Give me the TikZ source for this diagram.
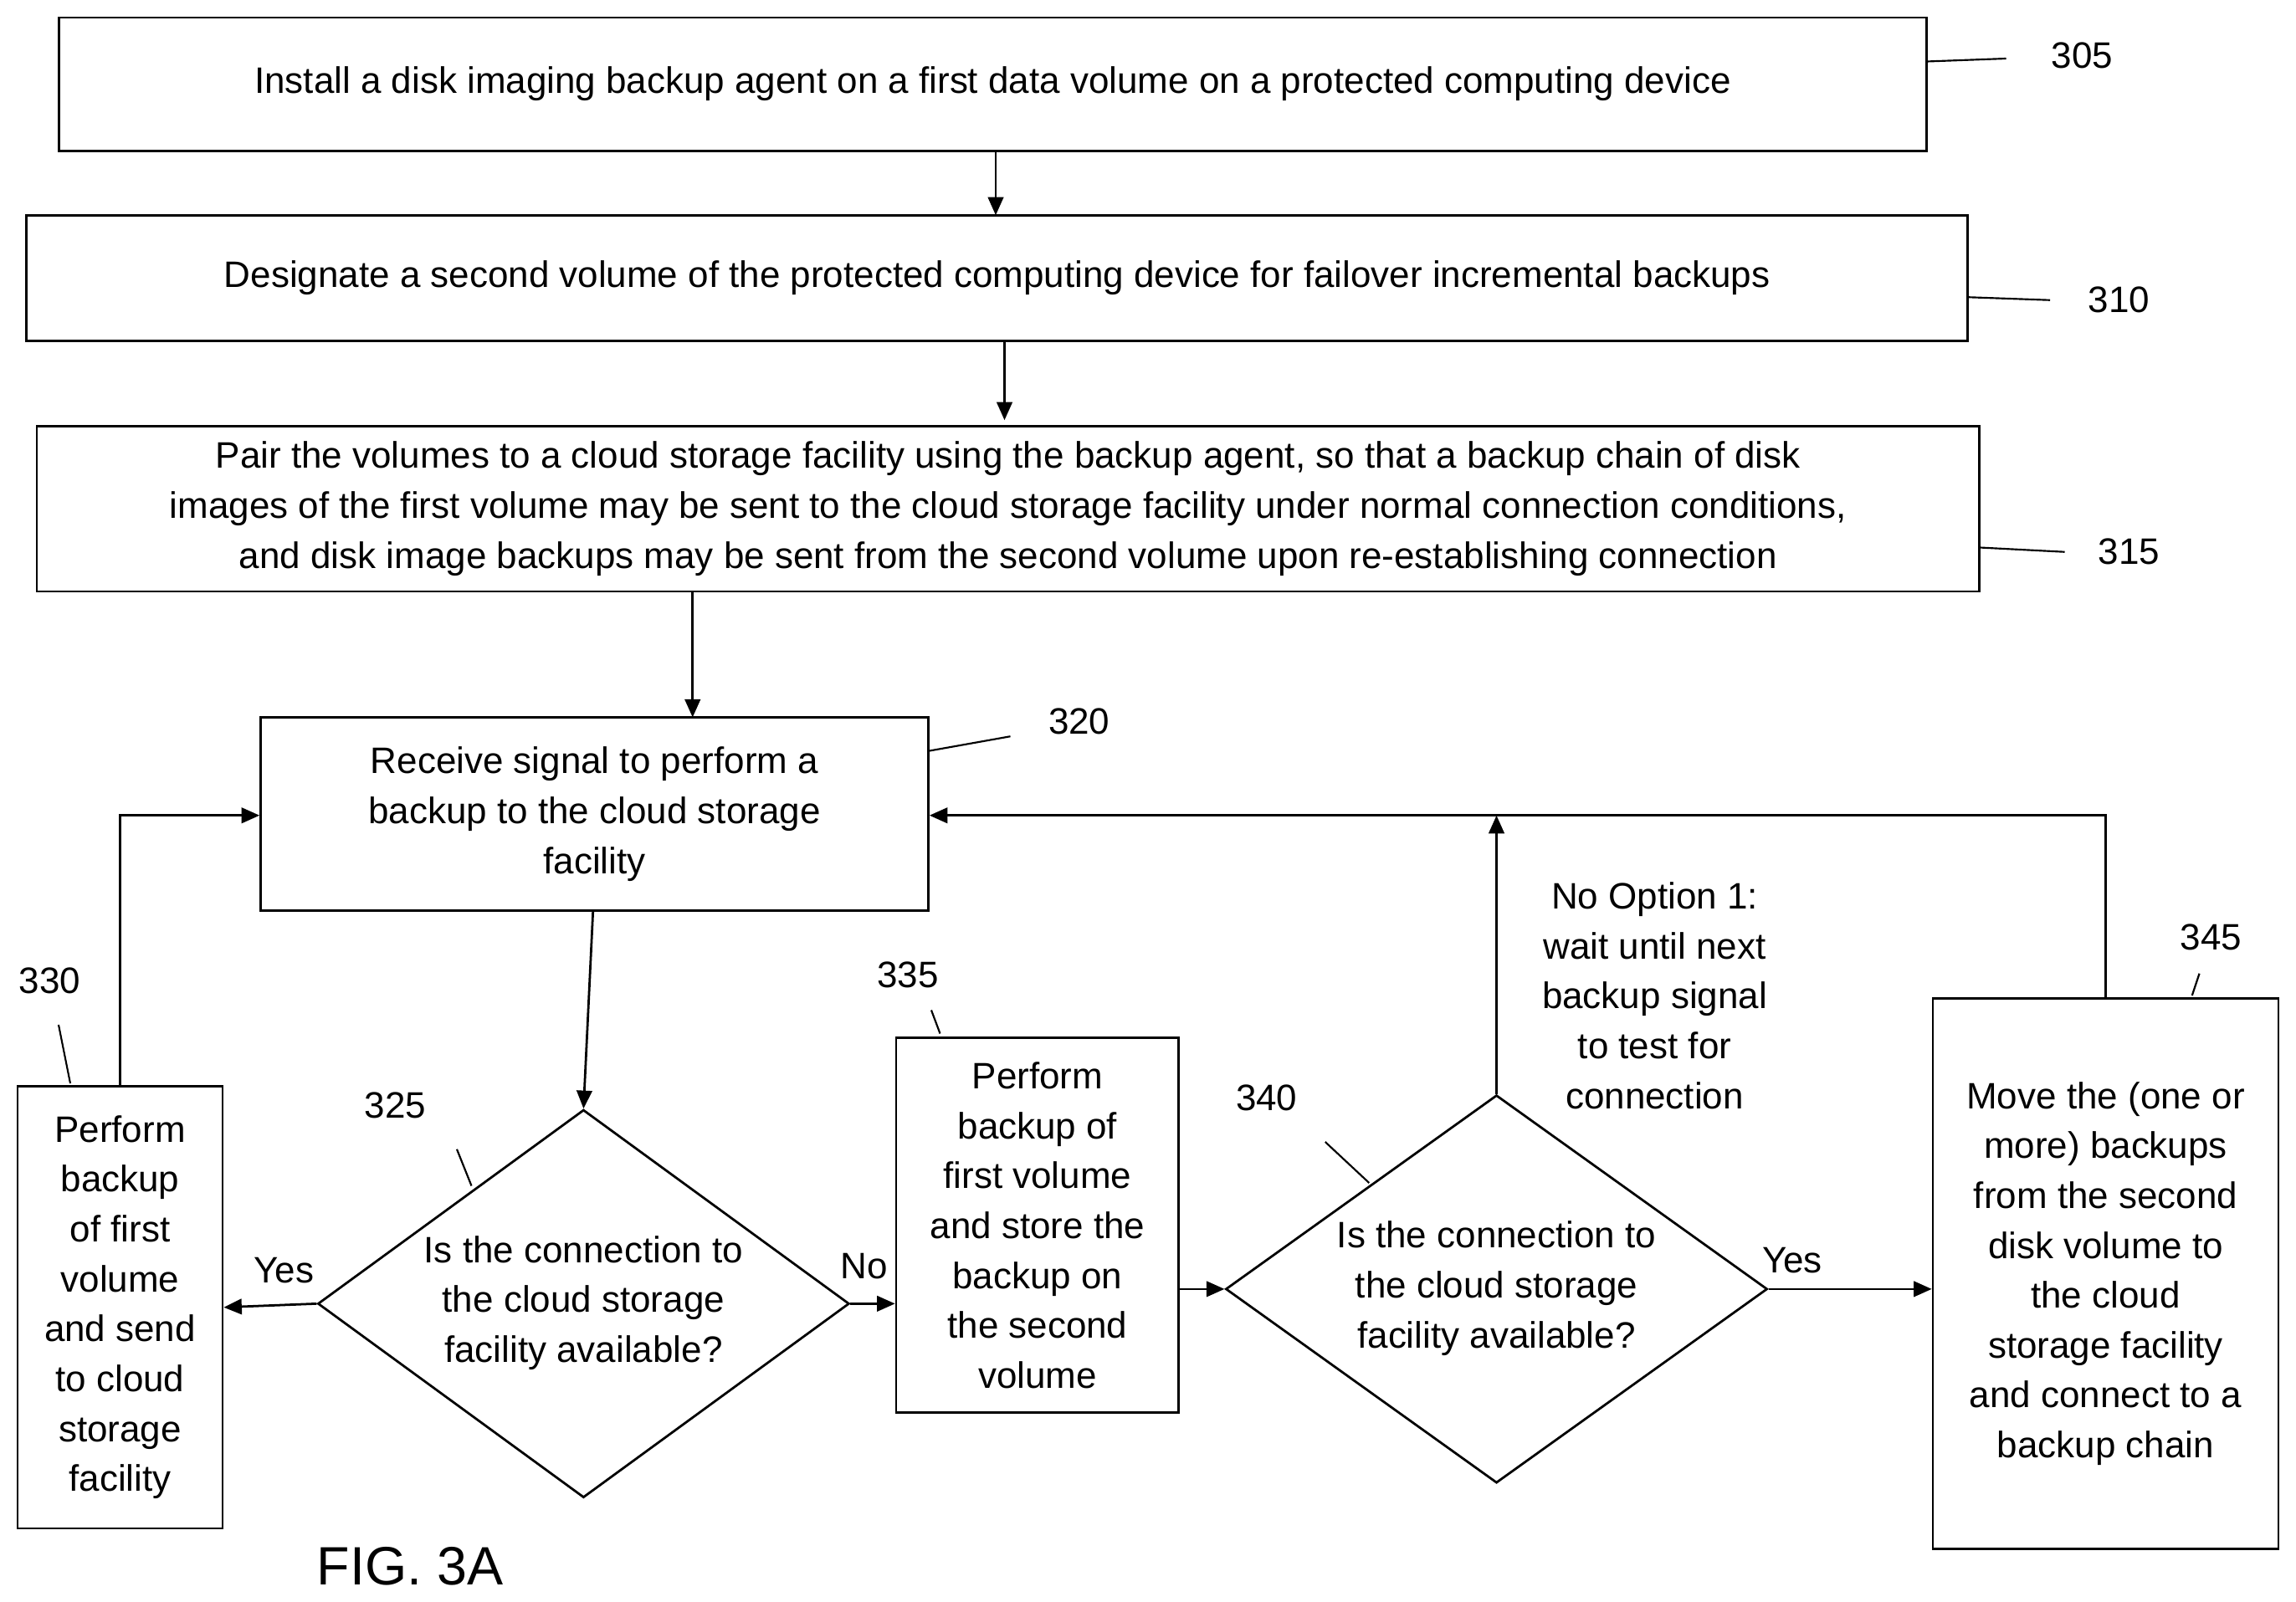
\documentclass[tikz,border=0pt]{standalone}
\usepackage{fontspec}
\setmainfont{Liberation Sans}
\usetikzlibrary{shapes.geometric,arrows.meta}
\begin{document}
\begin{tikzpicture}[x=0.02cm,y=-0.02cm,
  box/.style={draw,line width=0.9pt,rectangle,inner sep=0pt,align=center,font=\fontsize{14.3}{19.4}\selectfont},
  dia/.style={draw,line width=0.9pt,diamond,inner sep=0pt},
  txt/.style={align=center,font=\fontsize{14.3}{19.4}\selectfont},
  arr/.style={line width=0.9pt,-{Triangle[length=7pt,width=6pt]}},
  lead/.style={line width=0.7pt},
  lbl/.style={font=\fontsize{14.3}{17}\selectfont}]
\useasboundingbox (0,0) rectangle (1568,1094);
\node[box,minimum width=25.52cm,minimum height=1.82cm] (b305) at (678,57.5) {Install a disk imaging backup agent on a first data volume on a protected computing device};
\node[box,minimum width=26.52cm,minimum height=1.72cm] (b310) at (681,190) {Designate a second volume of the protected computing device for failover incremental backups};
\node[box,minimum width=26.54cm,minimum height=2.26cm] (b315) at (688.5,347.5) {Pair the volumes to a cloud storage facility using the backup agent, so that a backup chain of disk\\images of the first volume may be sent to the cloud storage facility under normal connection conditions,\\and disk image backups may be sent from the second volume upon re-establishing connection};
\node[box,minimum width=9.12cm,minimum height=2.64cm] (b320) at (406,556) {Receive signal to perform a\\backup to the cloud storage\\facility};
\node[box,minimum width=2.8cm,minimum height=6.04cm] (b330) at (82,893) {Perform\\backup\\of first\\volume\\and send\\to cloud\\storage\\facility};
\node[box,minimum width=3.86cm,minimum height=5.12cm] (b335) at (708.5,837) {Perform\\backup of\\first volume\\and store the\\backup on\\the second\\volume};
\node[box,minimum width=4.72cm,minimum height=7.52cm] (b345) at (1438,870) {Move the (one or\\more) backups\\from the second\\disk volume to\\the cloud\\storage facility\\and connect to a\\backup chain};
\node[dia,minimum width=7.26cm,minimum height=5.3cm] (d325) at (398.5,890.5) {};
\node[txt] (t325) at (398.5,890) {Is the connection to\\the cloud storage\\facility available?};
\node[dia,minimum width=7.4cm,minimum height=5.3cm] (d340) at (1022,880.5) {};
\node[txt] (t340) at (1022,880) {Is the connection to\\the cloud storage\\facility available?};
\node[txt] (opt) at (1130,680) {No Option 1:\\wait until next\\backup signal\\to test for\\connection};
\node[txt] (yes1) at (194,868) {Yes};
\node[txt] (no1) at (590,865) {No};
\node[txt] (yes2) at (1224,861) {Yes};
\node[lbl] (l305) at (1422,38) {305};
\node[lbl] (l310) at (1447,205) {310};
\node[lbl] (l315) at (1454,377) {315};
\node[lbl] (l320) at (737,493) {320};
\node[lbl] (l325) at (270,755) {325};
\node[lbl] (l330) at (34,670) {330};
\node[lbl] (l335) at (620,666) {335};
\node[lbl] (l340) at (865,750) {340};
\node[lbl] (l345) at (1510,640) {345};
\node[font=\fontsize{21}{25}\selectfont] (fig) at (280,1070) {FIG. 3A};
\coordinate (c1) at (82,557);
\coordinate (c2) at (1022,557);
\coordinate (c3) at (1438,557);
\draw[arr] (680,103) -- (680,147);
\draw[arr] (686,233) -- (686,287);
\draw[arr] (473,404) -- (473,490);
\draw[arr] (405,622) -- (d325.north);
\draw[arr] (d325.west) -- (b330.east);
\draw[arr] (b330.north) -- (c1) -- (b320.west |- c1);
\draw[arr] (d325.east) -- (b335.west |- d325.east);
\draw[arr] (b335.east |- d340.west) -- (d340.west);
\draw[arr] (d340.north) -- (c2);
\draw[arr] (d340.east) -- (b345.west |- d340.east);
\draw[arr] (b345.north) -- (c3) -- (b320.east |- c3);
\draw[lead] (1316,42) -- (1370,40);
\draw[lead] (1344,203) -- (1400,205);
\draw[lead] (1352,374) -- (1410,377);
\draw[lead] (634,513) -- (690,503);
\draw[lead] (322,810) -- (312,785);
\draw[lead] (48,740) -- (40,700);
\draw[lead] (642,706) -- (636,690);
\draw[lead] (935,808) -- (905,780);
\draw[lead] (1497,680) -- (1502,665);
\end{tikzpicture}
\end{document}
